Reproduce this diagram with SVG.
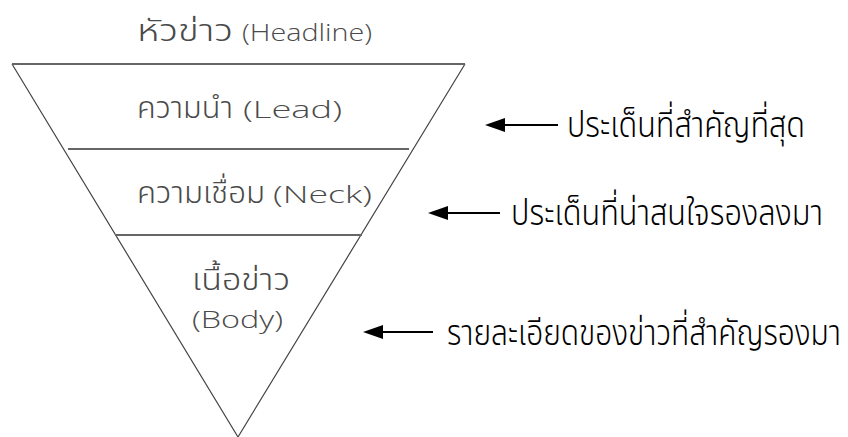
<svg xmlns="http://www.w3.org/2000/svg" width="848" height="437" viewBox="0 0 848 437">
<defs>
<style>
.th{font-family:"Noto Sans Thai","Loma","Tahoma",sans-serif;font-size:30px;font-weight:300;fill:#4a4a4a}
.en{font-family:"Open Sans","Liberation Sans",sans-serif;font-size:24px;font-weight:300;fill:#4a4a4a}
.note{font-family:"Noto Sans Thai","Loma","Tahoma",sans-serif;font-size:30px;font-weight:300;fill:#000}
.edge{stroke:#444;stroke-width:1.2;fill:none}
.div{stroke:#666;stroke-width:1.8;fill:none}
.arr{stroke:#000;stroke-width:2;fill:none}
</style>
</defs>
<rect width="848" height="437" fill="#fff"/>
<g id="funnel">
<path class="edge" d="M12,64 L238,437 L465,64"/>
<line class="div" x1="12" y1="64" x2="465" y2="64"/>
<line class="div" x1="68" y1="149" x2="409" y2="149"/>
<line class="div" x1="115" y1="235" x2="362" y2="235"/>
</g>
<g id="headline"><text class="th" x="137" y="41" textLength="96" lengthAdjust="spacingAndGlyphs">หัวข่าว</text><text class="en" x="242" y="41" textLength="130" lengthAdjust="spacingAndGlyphs">(Headline)</text></g>
<g id="lead"><text class="th" x="137" y="118" textLength="96" lengthAdjust="spacingAndGlyphs">ความนำ</text><text class="en" x="243" y="118" textLength="99" lengthAdjust="spacingAndGlyphs">(Lead)</text></g>
<g id="neck"><text class="th" x="137" y="203" textLength="128" lengthAdjust="spacingAndGlyphs">ความเชื่อม</text><text class="en" x="273" y="203" textLength="99" lengthAdjust="spacingAndGlyphs">(Neck)</text></g>
<g id="body"><text class="th" x="192" y="290" textLength="98" lengthAdjust="spacingAndGlyphs">เนื้อข่าว</text><text class="en" x="192" y="328" textLength="91" lengthAdjust="spacingAndGlyphs">(Body)</text></g>
<g id="note1"><text class="note" transform="translate(567,137) scale(1,1.2)" x="0" y="0" textLength="238" lengthAdjust="spacingAndGlyphs">ประเด็นที่สำคัญที่สุด</text></g>
<g id="note2"><text class="note" transform="translate(511,225) scale(1,1.2)" x="0" y="0" textLength="312" lengthAdjust="spacingAndGlyphs">ประเด็นที่น่าสนใจรองลงมา</text></g>
<g id="note3"><text class="note" transform="translate(447,345) scale(1,1.2)" x="0" y="0" textLength="394" lengthAdjust="spacingAndGlyphs">รายละเอียดของข่าวที่สำคัญรองมา</text></g>
<g id="connectors">
<line class="arr" x1="558" y1="125" x2="502" y2="125"/>
<path d="M485,125 L505,118 L505,132 Z" fill="#000"/>
<line class="arr" x1="500" y1="213" x2="445" y2="213"/>
<path d="M428,213 L448,206 L448,220 Z" fill="#000"/>
<line class="arr" x1="433" y1="332" x2="380" y2="332"/>
<path d="M363,332 L383,325 L383,339 Z" fill="#000"/>
</g>
</svg>
